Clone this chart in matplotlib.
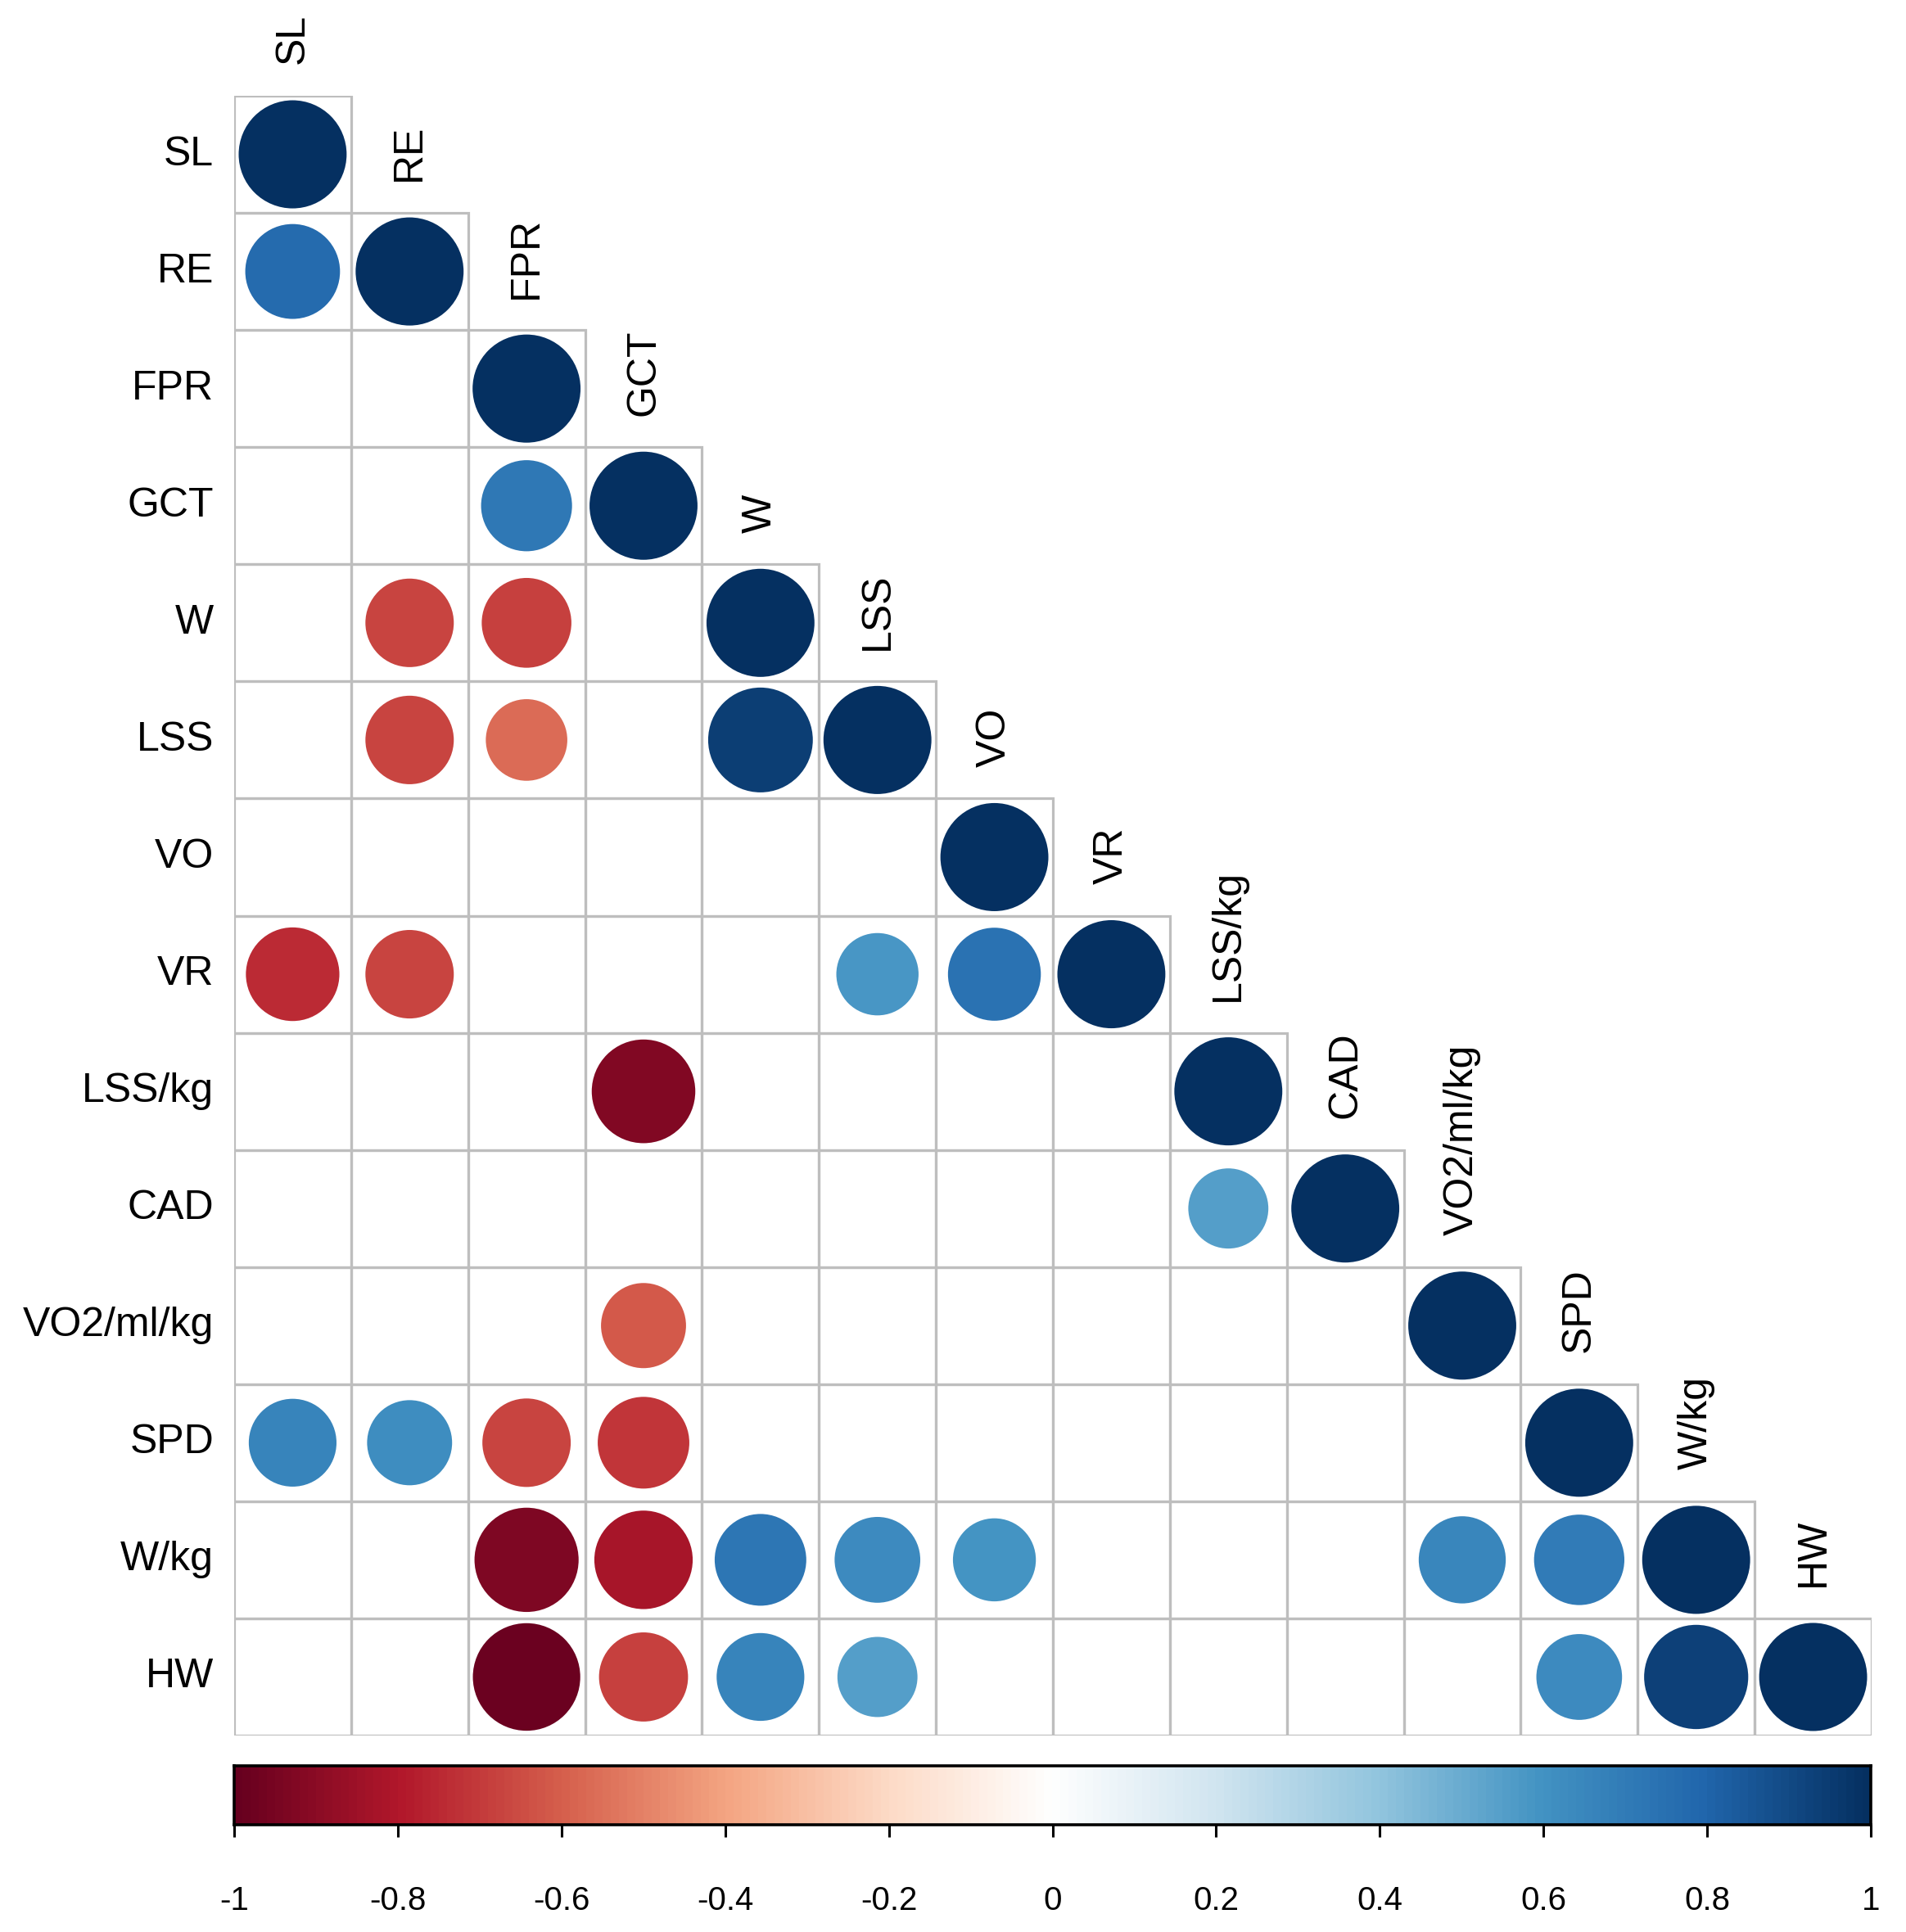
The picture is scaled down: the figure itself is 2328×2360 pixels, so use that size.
import numpy as np
import matplotlib
matplotlib.use("Agg")
import matplotlib.pyplot as plt
from matplotlib.patches import Circle, Rectangle
from matplotlib.colors import LinearSegmentedColormap

plt.rcParams['font.family'] = ['Liberation Sans', 'DejaVu Sans']

nan = np.nan
labels = ["SL", "RE", "FPR", "GCT", "W", "LSS", "VO", "VR", "LSS/kg", "CAD",
          "VO2/ml/kg", "SPD", "W/kg", "HW"]

# lower-triangle correlation rows (blank = not shown)
row_SL = [1]
row_RE = [0.77, 1]
row_FPR = [nan, nan, 1]
row_GCT = [nan, nan, 0.71, 1]
row_W = [nan, -0.67, -0.69, nan, 1]
row_LSS = [nan, -0.67, -0.57, nan, 0.94, 1]
row_VO = [nan, nan, nan, nan, nan, nan, 1]
row_VR = [-0.75, -0.67, nan, nan, nan, 0.58, 0.74, 1]
row_LSSkg = [nan, nan, nan, -0.92, nan, nan, nan, nan, 1]
row_CAD = [nan, nan, nan, nan, nan, nan, nan, nan, 0.55, 1]
row_VO2 = [nan, nan, nan, -0.62, nan, nan, nan, nan, nan, nan, 1]
row_SPD = [0.66, 0.62, -0.67, -0.72, nan, nan, nan, nan, nan, nan, nan, 1]
row_Wkg = [nan, nan, -0.93, -0.83, 0.72, 0.63, 0.59, nan, nan, nan, 0.65, 0.70, 1]
row_HW = [nan, nan, -0.99, -0.68, 0.66, 0.55, nan, nan, nan, nan, nan, 0.63, 0.93, 1]
rows = [row_SL, row_RE, row_FPR, row_GCT, row_W, row_LSS, row_VO, row_VR,
        row_LSSkg, row_CAD, row_VO2, row_SPD, row_Wkg, row_HW]

cbar_ticks = [-1, -0.8, -0.6, -0.4, -0.2, 0, 0.2, 0.4, 0.6, 0.8, 1]
cbar_ticklabels = ["-1", "-0.8", "-0.6", "-0.4", "-0.2", "0", "0.2", "0.4", "0.6", "0.8", "1"]

pal = ["#67001F", "#B2182B", "#D6604D", "#F4A582", "#FDDBC7", "#FFFFFF",
       "#D1E5F0", "#92C5DE", "#4393C3", "#2166AC", "#053061"]
cmap = LinearSegmentedColormap.from_list("corrRdBu", pal, N=200)

W_PX, H_PX = 2328, 2360
fig = plt.figure(figsize=(W_PX / 100, H_PX / 100), dpi=100)

n = len(labels)
gl, gr, gt, gb = 286, 2286, 117, 2120
ax = fig.add_axes([gl / W_PX, 1 - gb / H_PX, (gr - gl) / W_PX, (gb - gt) / H_PX])
ax.set_xlim(0, n)
ax.set_ylim(n, 0)
ax.axis('off')

for i, row in enumerate(rows):
    for j, r in enumerate(row):
        ax.add_patch(Rectangle((j, i), 1, 1, facecolor='none', edgecolor='#BEBEBE',
                               lw=2.3, zorder=1))
for i, row in enumerate(rows):
    for j, r in enumerate(row):
        if np.isnan(r):
            continue
        rad = 0.4615 * np.sqrt(abs(r))
        ax.add_patch(Circle((j + 0.5, i + 0.5), rad, facecolor=cmap((r + 1) / 2),
                            edgecolor='none', zorder=2))

for i, lab in enumerate(labels):
    ax.text(-0.175, i + 0.5, lab, ha='right', va='center', fontsize=36, color='black')
    ax.text(i + 0.5, i - 0.27, lab, ha='center', va='bottom', rotation=90,
            fontsize=36, color='black')

cl, cr, ct, cb = 286, 2285, 2157, 2229
cax = fig.add_axes([cl / W_PX, 1 - cb / H_PX, (cr - cl) / W_PX, (cb - ct) / H_PX])
grad = np.linspace(-1, 1, 200).reshape(1, -1)
cax.imshow(grad, cmap=cmap, vmin=-1, vmax=1, aspect='auto', extent=[-1, 1, 0, 1],
           interpolation='nearest')
cax.set_xlim(-1, 1)
cax.set_ylim(0, 1)
cax.set_yticks([])
cax.set_xticks(cbar_ticks)
cax.set_xticklabels(cbar_ticklabels, fontsize=29)
cax.tick_params(axis='x', length=11, width=2.2, pad=42, direction='out')
for s in cax.spines.values():
    s.set_linewidth(2.6)
    s.set_color('black')

fig.savefig("out.png", dpi=100, facecolor='white')
